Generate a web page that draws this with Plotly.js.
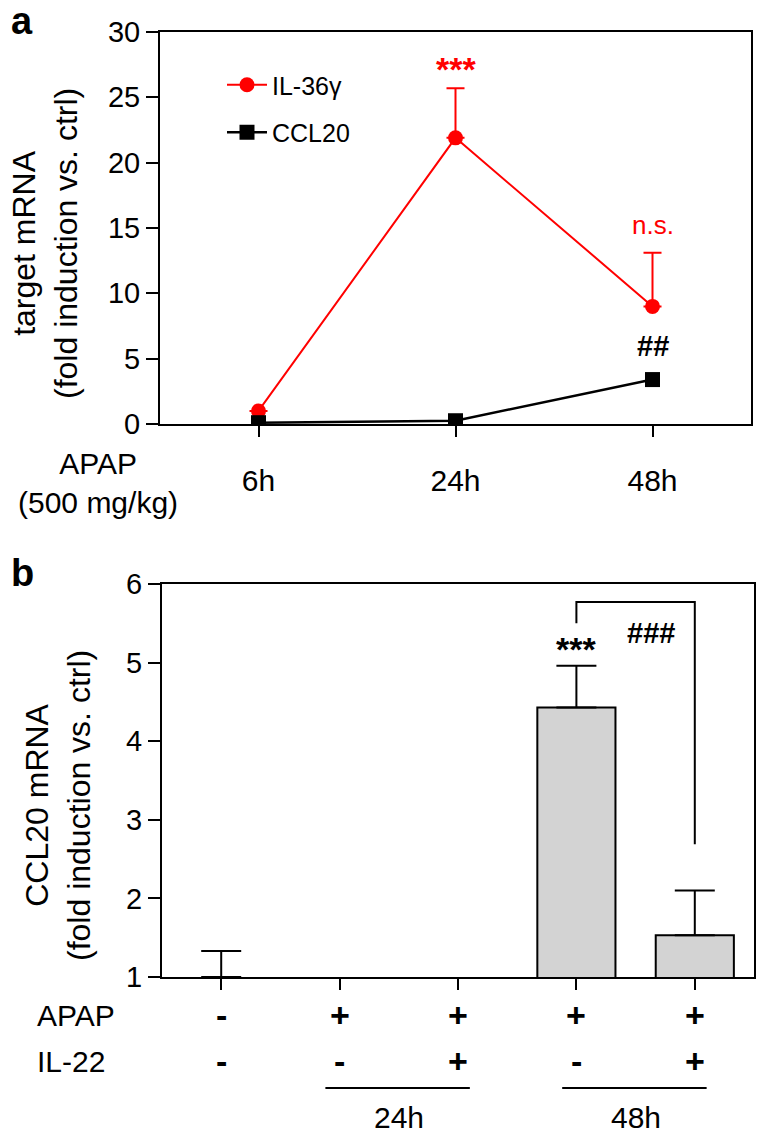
<!DOCTYPE html>
<html>
<head>
<meta charset="utf-8">
<script src="https://cdn.plot.ly/plotly-3.0.1.min.js"></script>
<style>html,body{margin:0;padding:0;background:#fff;}#chart{width:764px;height:1139px;}</style>
</head>
<body>
<div id="chart"></div>
<script>
// ---------- DATA ----------
const times = ['6h', '24h', '48h'];
const il36Mean = [1.0, 21.9, 9.0];
const il36ErrUp = [0, 3.8, 4.1];
const ccl20LineMean = [0.1, 0.25, 3.4];

const conditions = ['ctrl', 'APAP 24h', 'APAP+IL-22 24h', 'APAP 48h', 'APAP+IL-22 48h'];
const ccl20BarMean = [1.0, 1.0, 1.0, 4.43, 1.53];
const ccl20BarErrUp = [0.33, NaN, NaN, 0.53, 0.57];
const apapRow = ['-', '+', '+', '+', '+'];
const il22Row = ['-', '-', '+', '-', '+'];
const timeGroups = [{label: '24h', first: 1, last: 2}, {label: '48h', first: 3, last: 4}];

// ---------- LAYOUT HELPERS (pixel -> paper) ----------
const W = 764, H = 1139;
const X = px => px / W;
const Y = py => 1 - py / H;
const FONT = 'Liberation Sans, Arial, Helvetica, sans-serif';
const RED = '#ff0000';
const zeros = n => new Array(n).fill(0);
const upOnlyMinus = arr => arr.map(v => (isNaN(v) ? NaN : 0));

const traces = [
  {
    x: times, y: il36Mean, name: 'IL-36γ', type: 'scatter', mode: 'lines+markers',
    xaxis: 'x', yaxis: 'y', legendgroup: 'g1',
    line: {color: RED, width: 2},
    marker: {color: RED, size: 15, symbol: 'circle'},
    error_y: {type: 'data', symmetric: false, array: il36ErrUp, arrayminus: zeros(3),
              color: RED, thickness: 2, width: 9}
  },
  {
    x: times, y: ccl20LineMean, name: 'CCL20', type: 'scatter', mode: 'lines+markers',
    xaxis: 'x', yaxis: 'y', legendgroup: 'g2',
    line: {color: '#000', width: 2.5},
    marker: {color: '#000', size: 15, symbol: 'square'}
  },
  {
    x: conditions, y: ccl20BarMean, type: 'bar', xaxis: 'x2', yaxis: 'y2', showlegend: false,
    width: 0.66,
    marker: {
      color: ccl20BarMean.map(v => (v > 1 ? '#d3d3d3' : 'rgba(0,0,0,0)')),
      line: {color: '#000', width: ccl20BarMean.map(v => (v > 1 ? 2 : 0))}
    },
    error_y: {type: 'data', symmetric: false, array: ccl20BarErrUp,
              arrayminus: upOnlyMinus(ccl20BarErrUp),
              color: '#000', thickness: 2, width: 20}
  }
];

const axisCommon = {
  showline: true, linecolor: '#000', linewidth: 2, mirror: true,
  showgrid: false, zeroline: false,
  ticks: 'outside', tickcolor: '#000', tickwidth: 2,
  tickfont: {family: FONT, size: 29, color: '#000'}
};

const annotations = [];
// panel letters
annotations.push({xref: 'paper', yref: 'paper', x: X(22), y: Y(21), text: '<b>a</b>', showarrow: false,
  font: {family: FONT, size: 38, color: '#000'}, xanchor: 'center', yanchor: 'middle'});
annotations.push({xref: 'paper', yref: 'paper', x: X(22), y: Y(573), text: '<b>b</b>', showarrow: false,
  font: {family: FONT, size: 38, color: '#000'}, xanchor: 'center', yanchor: 'middle'});
// y titles
annotations.push({xref: 'paper', yref: 'paper', x: X(45), y: Y(244), textangle: -90,
  text: 'target mRNA<br>(fold induction vs. ctrl)', showarrow: false,
  font: {family: FONT, size: 32, color: '#000'}, xanchor: 'center', yanchor: 'middle'});
annotations.push({xref: 'paper', yref: 'paper', x: X(58), y: Y(806), textangle: -90,
  text: 'CCL20 mRNA<br>(fold induction vs. ctrl)', showarrow: false,
  font: {family: FONT, size: 32, color: '#000'}, xanchor: 'center', yanchor: 'middle'});
// panel a x caption
annotations.push({xref: 'paper', yref: 'paper', x: X(98), y: Y(483), text: 'APAP<br>(500 mg/kg)',
  showarrow: false, align: 'center', font: {family: FONT, size: 30, color: '#000'},
  xanchor: 'center', yanchor: 'middle'});
// panel a significance
annotations.push({xref: 'x', yref: 'y', x: times[1], y: 27.2, text: '<b>***</b>', showarrow: false,
  font: {family: FONT, size: 34, color: RED}, xanchor: 'center', yanchor: 'middle'});
annotations.push({xref: 'x', yref: 'y', x: times[2], y: 15.2, text: 'n.s.', showarrow: false,
  font: {family: FONT, size: 26, color: RED}, xanchor: 'center', yanchor: 'middle'});
annotations.push({xref: 'x', yref: 'y', x: times[2], y: 6.0, text: '<b>##</b>', showarrow: false,
  font: {family: FONT, size: 29, color: '#000'}, xanchor: 'center', yanchor: 'middle'});
// panel b significance
annotations.push({xref: 'x2', yref: 'y2', x: 3, y: 5.17, text: '<b>***</b>', showarrow: false,
  font: {family: FONT, size: 34, color: '#000'}, xanchor: 'center', yanchor: 'middle'});
annotations.push({xref: 'x2', yref: 'y2', x: 3.63, y: 5.38, text: '<b>###</b>', showarrow: false,
  font: {family: FONT, size: 29, color: '#000'}, xanchor: 'center', yanchor: 'middle'});
// panel b condition rows
annotations.push({xref: 'paper', yref: 'paper', x: X(35), y: Y(1015), text: 'APAP', showarrow: false,
  font: {family: FONT, size: 30, color: '#000'}, xanchor: 'left', yanchor: 'middle'});
annotations.push({xref: 'paper', yref: 'paper', x: X(35), y: Y(1061), text: 'IL-22', showarrow: false,
  font: {family: FONT, size: 30, color: '#000'}, xanchor: 'left', yanchor: 'middle'});
conditions.forEach((c, i) => {
  annotations.push({xref: 'x2', yref: 'paper', x: c, y: Y(1015), text: '<b>' + apapRow[i] + '</b>',
    showarrow: false, font: {family: FONT, size: 34, color: '#000'}, xanchor: 'center', yanchor: 'middle'});
  annotations.push({xref: 'x2', yref: 'paper', x: c, y: Y(1061), text: '<b>' + il22Row[i] + '</b>',
    showarrow: false, font: {family: FONT, size: 34, color: '#000'}, xanchor: 'center', yanchor: 'middle'});
});
const shapes = [];
timeGroups.forEach(g => {
  shapes.push({type: 'line', xref: 'x2', yref: 'paper', x0: g.first - 0.12, x1: g.last + 0.1,
    y0: Y(1088), y1: Y(1088), line: {color: '#000', width: 2}});
  annotations.push({xref: 'x2', yref: 'paper', x: (g.first + g.last) / 2, y: Y(1117), text: g.label,
    showarrow: false, font: {family: FONT, size: 30, color: '#000'}, xanchor: 'center', yanchor: 'middle'});
});
// bracket in panel b
shapes.push({type: 'path', xref: 'x2', yref: 'y2', path: 'M3,5.5 L3,5.77 L4,5.77 L4,2.69',
  line: {color: '#000', width: 2}});

const layout = {
  width: W, height: H,
  margin: {l: 0, r: 0, t: 0, b: 0},
  paper_bgcolor: '#fff', plot_bgcolor: '#fff',
  font: {family: FONT, color: '#000'},
  showlegend: true,
  legend: {x: X(222), y: Y(62), xanchor: 'left', yanchor: 'top', bgcolor: 'rgba(0,0,0,0)',
    font: {family: FONT, size: 25, color: '#000'}, traceorder: 'grouped', tracegroupgap: 12,
    itemwidth: 40},
  xaxis: Object.assign({}, axisCommon, {domain: [X(160), X(751)], anchor: 'y', type: 'category',
    range: [-0.5, 2.5], ticklen: 11, ticklabelstandoff: 18,
    tickfont: {family: FONT, size: 30, color: '#000'}}),
  yaxis: Object.assign({}, axisCommon, {domain: [Y(424), Y(32)], anchor: 'x', range: [0, 30],
    dtick: 5, ticklen: 12}),
  xaxis2: Object.assign({}, axisCommon, {domain: [X(162), X(754)], anchor: 'y2', type: 'category',
    range: [-0.5, 4.5], ticklen: 11, showticklabels: false}),
  yaxis2: Object.assign({}, axisCommon, {domain: [Y(977), Y(584)], anchor: 'x2', range: [1, 6],
    dtick: 1, ticklen: 12}),
  annotations: annotations,
  shapes: shapes
};

Plotly.newPlot('chart', traces, layout, {displayModeBar: false, staticPlot: true});
</script>
</body>
</html>
